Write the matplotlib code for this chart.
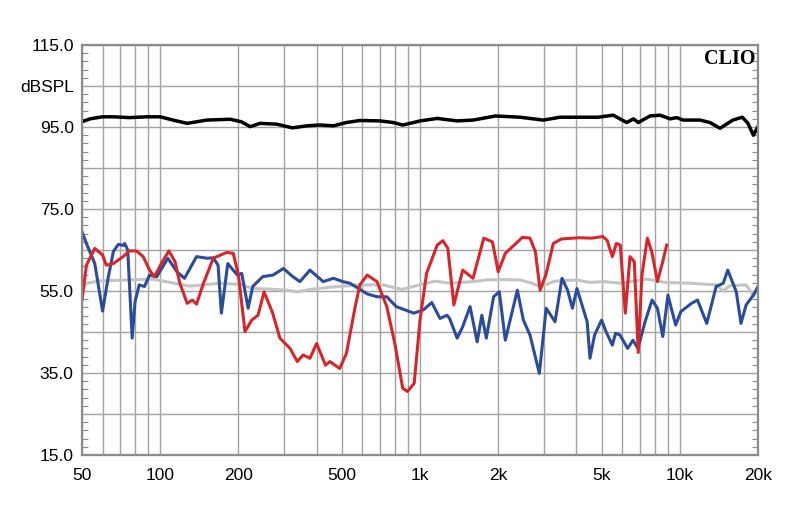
import numpy as np
import matplotlib
matplotlib.use("Agg")
import matplotlib.pyplot as plt
from matplotlib.ticker import FixedLocator, FuncFormatter

# Frequenzgang (Hz, dBSPL)
black_f = [50, 53.7, 60, 66, 76, 89, 100, 112, 127, 151, 186, 205, 222, 242, 281, 323,
           367, 412, 464, 521, 587, 702, 790, 858, 945, 1000, 1165, 1389, 1600, 1955,
           2427, 2985, 3459, 4100, 4850, 5540, 6250, 6630, 6920, 7680, 8390, 9170, 9740,
           10300, 11960, 13070, 14280, 16000, 17400, 18300, 19200, 20000]
black_db = [96.3, 97.0, 97.5, 97.5, 97.3, 97.5, 97.5, 96.7, 95.9, 96.7, 96.9, 96.3, 95.1,
            95.9, 95.7, 94.8, 95.3, 95.5, 95.3, 96.1, 96.6, 96.5, 96.1, 95.5, 96.1, 96.5,
            97.1, 96.5, 96.7, 97.7, 97.4, 96.7, 97.4, 97.4, 97.4, 97.9, 96.1, 97.0, 96.1,
            97.7, 97.9, 97.0, 97.3, 96.7, 96.7, 96.1, 94.7, 96.7, 97.4, 95.9, 93.0, 95.1]

gray_f = [50, 52, 59, 76, 94, 109, 130, 146, 170, 205, 226, 258, 308, 337, 377, 464, 587,
          720, 850, 1000, 1140, 1300, 1600, 1800, 2130, 2430, 2700, 2900, 3300, 4000, 4500,
          5100, 5900, 7500, 8800, 10900, 13800, 14700, 15600, 18000, 19200, 20000]
gray_db = [54.8, 56.9, 57.5, 57.7, 57.9, 57.1, 56.2, 56.5, 56.9, 56.6, 55.6, 55.5, 55.2,
           54.8, 55.4, 56.0, 56.5, 56.5, 55.4, 56.5, 57.4, 56.9, 57.3, 57.7, 57.8, 57.7,
           56.9, 56.0, 57.4, 57.7, 57.1, 57.3, 56.9, 57.9, 57.1, 56.9, 56.5, 55.0, 56.3,
           56.5, 53.9, 55.2]

blue_f = [50, 52, 56, 60, 63, 66, 69, 72, 73, 75, 78, 80, 83, 87, 91, 97, 107, 116, 124,
          138, 151, 160, 167, 172, 182, 198, 206, 218, 227, 248, 272, 298, 324, 345, 377,
          424, 464, 505, 538, 626, 683, 745, 810, 946, 1030, 1110, 1194, 1270, 1300, 1390,
          1460, 1558, 1660, 1730, 1800, 1920, 2020, 2130, 2370, 2500, 2650, 2880, 3060,
          3310, 3520, 3700, 3860, 4020, 4400, 4510, 4700, 5000, 5200, 5500, 5660, 5880,
          6300, 6600, 6900, 7350, 7820, 8200, 8600, 9000, 9640, 10100, 11100, 11700,
          12700, 13800, 14700, 15300, 16500, 17200, 18000, 19200, 20000]
blue_db = [69.5, 66.6, 61.7, 50.1, 58.1, 64.6, 66.4, 66.1, 66.6, 65.0, 43.5, 52.4, 56.5,
           56.1, 58.9, 58.5, 63.0, 59.7, 58.1, 63.4, 63.0, 63.1, 61.3, 49.6, 61.7, 58.9,
           59.3, 50.8, 56.1, 58.5, 58.9, 60.5, 58.5, 57.3, 60.1, 57.3, 58.1, 57.3, 56.9,
           54.3, 53.6, 53.6, 51.2, 49.6, 50.4, 52.2, 48.3, 49.1, 48.3, 43.5, 46.3, 51.2,
           42.6, 49.1, 43.5, 53.6, 54.8, 43.0, 55.2, 47.9, 44.3, 34.9, 50.8, 47.5, 58.1,
           55.2, 50.8, 55.6, 47.5, 38.6, 44.3, 47.9, 45.1, 41.8, 44.7, 44.3, 41.0, 43.0,
           41.0, 47.5, 52.8, 50.8, 43.9, 54.0, 46.7, 50.0, 52.0, 52.8, 47.1, 56.1, 56.9,
           60.1, 54.8, 47.1, 51.6, 54.0, 56.1]

red_f = [50, 52, 56, 60, 62, 66, 72, 76, 81, 86, 91, 95, 102, 108, 114, 119, 127, 133,
         138, 146, 160, 180, 191, 200, 212, 225, 238, 251, 270, 289, 316, 337, 355, 377,
         400, 433, 450, 491, 521, 563, 587, 626, 683, 745, 800, 858, 895, 950, 1000, 1060,
         1165, 1225, 1280, 1350, 1460, 1600, 1760, 1900, 2000, 2130, 2480, 2650, 2780,
         2900, 3050, 3260, 3500, 4100, 4600, 5050, 5250, 5500, 5700, 5900, 6170, 6430,
         6680, 6920, 7150, 7500, 7800, 8200, 8600, 8900]
red_db = [52.8, 61.3, 65.4, 63.8, 61.3, 61.7, 63.4, 64.8, 64.8, 63.4, 60.1, 58.5, 62.2,
          64.8, 62.2, 56.9, 52.0, 52.8, 51.8, 56.5, 63.0, 64.4, 64.2, 58.9, 45.1, 47.9,
          49.1, 54.8, 49.9, 43.5, 41.0, 37.8, 39.4, 38.6, 42.2, 36.9, 37.8, 36.1, 39.8,
          51.2, 56.5, 58.9, 57.3, 51.2, 42.2, 31.3, 30.5, 32.5, 47.9, 59.3, 66.2, 67.3,
          65.4, 51.6, 60.1, 58.1, 67.9, 67.0, 59.7, 64.2, 68.1, 67.9, 64.6, 55.2, 58.9,
          66.6, 67.7, 68.0, 67.9, 68.3, 67.4, 63.4, 66.6, 66.2, 49.6, 63.4, 62.2, 40.0,
          58.9, 67.9, 64.6, 57.3, 62.2, 66.2]

x_ticks = [50, 100, 200, 500, 1000, 2000, 5000, 10000, 20000]
x_labels = ["50", "100", "200", "500", "1k", "2k", "5k", "10k", "20k"]
x_grid = [60, 70, 80, 90, 300, 400, 600, 700, 800, 900,
          3000, 4000, 6000, 7000, 8000, 9000]
y_labels = {115: "115.0", 105: "dBSPL", 95: "95.0", 75: "75.0",
            55: "55.0", 35: "35.0", 15: "15.0"}

plt.rcParams['font.family'] = ['Liberation Sans', 'DejaVu Sans']

fig = plt.figure(figsize=(8, 5.15), dpi=100)
ax = fig.add_axes([0.1025, 0.1165, 0.845, 0.796])

ax.plot(gray_f, gray_db, color='#c4c4c4', lw=2.2, solid_joinstyle='round')
ax.plot(blue_f, blue_db, color='#2b4c9b', lw=2.2, solid_joinstyle='round')
ax.plot(red_f, red_db, color='#d7262a', lw=2.2, solid_joinstyle='round')
ax.plot(black_f, black_db, color='black', lw=2.5, solid_joinstyle='round')

ax.set_xscale('log')
ax.set_xlim(50, 20000)
ax.set_ylim(15, 115)

ax.xaxis.set_major_locator(FixedLocator(x_ticks))
ax.xaxis.set_major_formatter(FuncFormatter(lambda v, p: x_labels[x_ticks.index(round(v))]
                                           if round(v) in x_ticks else ""))
ax.xaxis.set_minor_locator(FixedLocator(x_grid))
ax.xaxis.set_minor_formatter(FuncFormatter(lambda v, p: ""))
ax.tick_params(axis='x', which='both', length=0, pad=9, labelsize=12.5)

ax.yaxis.set_major_locator(FixedLocator(np.arange(15, 116, 10)))
ax.yaxis.set_major_formatter(FuncFormatter(lambda v, p: y_labels.get(int(round(v)), "")))
ax.yaxis.set_minor_locator(FixedLocator(np.arange(15, 116, 2)))
ax.tick_params(axis='y', which='major', length=0, pad=6, labelsize=12.5)
ax.tick_params(axis='y', which='minor', direction='in', length=4, width=0.8,
               color='#8a8a8a', left=True, right=True)

ax.grid(True, which='major', color='#a3a3a3', lw=1.0)
ax.grid(True, which='minor', axis='x', color='#a3a3a3', lw=1.0)
ax.set_axisbelow(True)

for s in ax.spines.values():
    s.set_color('#8c8c8c')
    s.set_linewidth(1.6)

ax.text(0.996, 0.99, "CLIO", transform=ax.transAxes, ha='right', va='top',
        family='Liberation Serif', fontweight='bold', fontsize=14.5)

plt.savefig("out.png", dpi=100)
